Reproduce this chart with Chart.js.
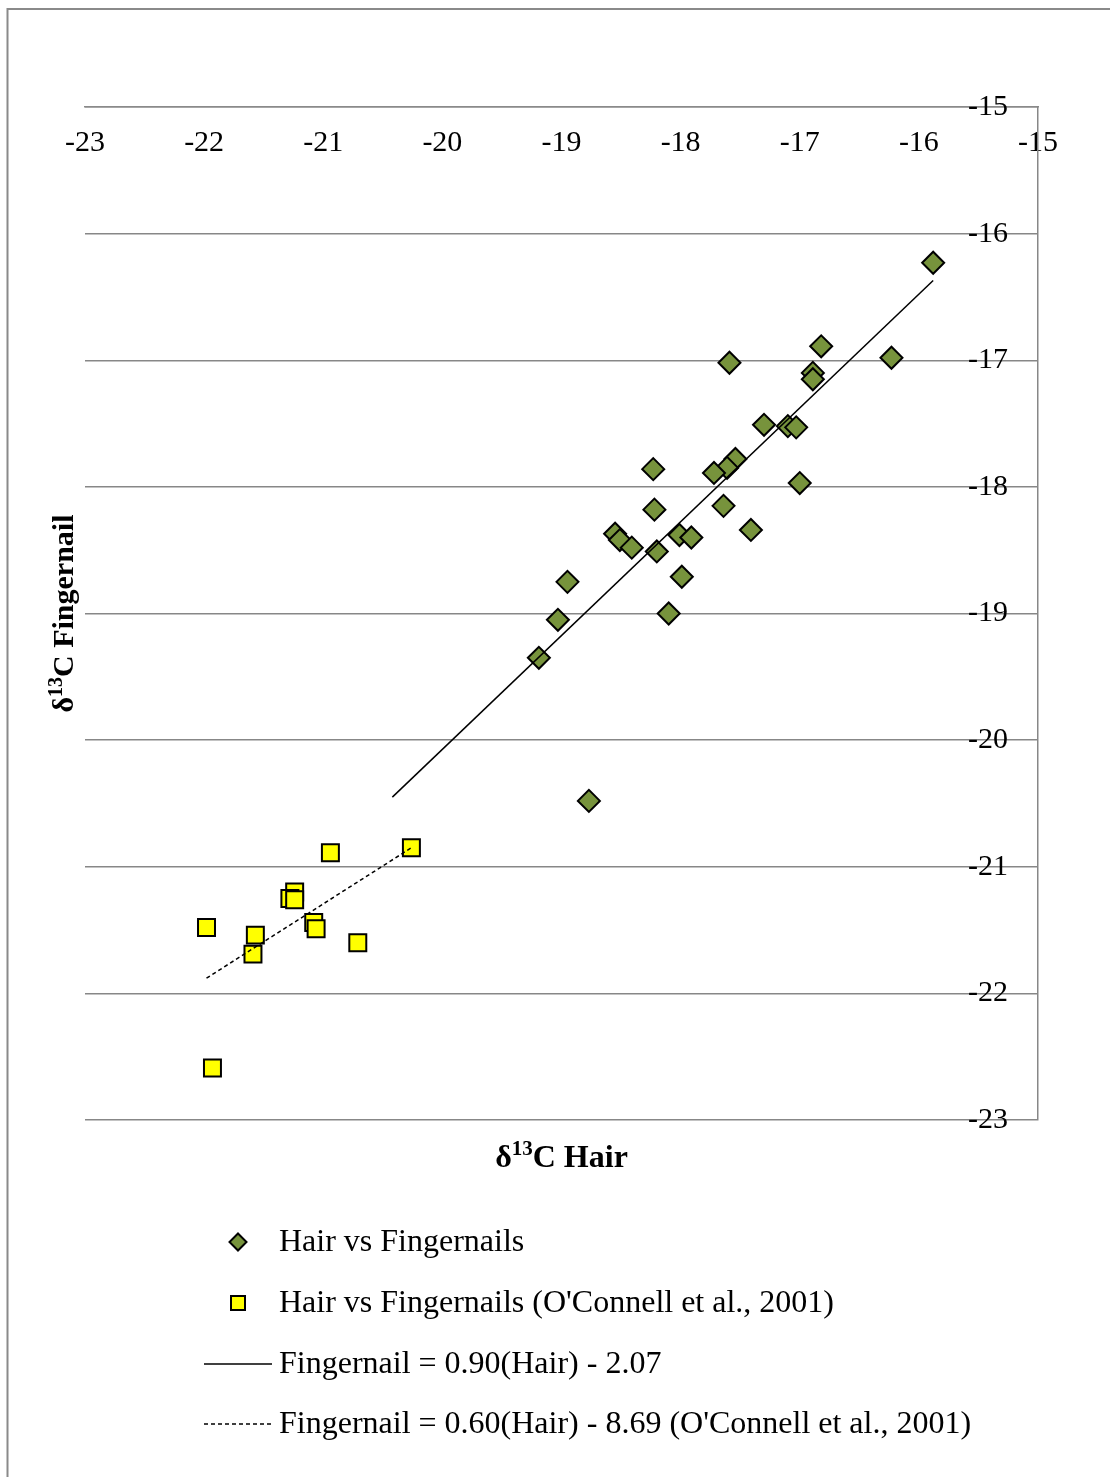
<!DOCTYPE html>
<html>
<head>
<meta charset="utf-8">
<script src="https://cdn.jsdelivr.net/npm/chart.js@4.4.1/dist/chart.umd.min.js"></script>
<style>
  html, body { margin: 0; padding: 0; background: #fff; }
  canvas { display: block; }
</style>
</head>
<body>
<canvas id="chart" width="1110" height="1477"></canvas>
<script>
// Hair vs fingernail d13C values (this study)
const hairValues = [-15.88, -16.82, -16.23, -17.59, -16.89, -16.89, -17.30, -17.10, -17.03, -17.54,
    -17.61, -17.72, -18.23, -17.00, -18.22, -17.64, -17.41, -18.55, -18.51, -18.41,
    -18.01, -17.91, -18.20, -17.99, -18.95, -18.10, -19.03, -19.19, -18.77];
const nailValues = [-16.23, -16.89, -16.98, -17.02, -17.10, -17.15, -17.51, -17.52, -17.53, -17.78,
    -17.85, -17.89, -17.86, -17.97, -18.18, -18.15, -18.34, -18.37, -18.42, -18.48,
    -18.38, -18.40, -18.51, -18.71, -18.75, -19.00, -19.05, -19.35, -20.48];

// O'Connell et al., 2001
const oconnellHair = [-20.26, -20.94, -21.24, -21.28, -21.24, -21.08, -21.06, -21.98, -21.57, -20.71, -21.59, -21.93];
const oconnellNail = [-20.85, -20.89, -21.20, -21.25, -21.26, -21.44, -21.49, -21.48, -21.54, -21.60, -21.69, -22.59];

// trend line end points as drawn
const trendHair = [-20.42, -15.88];
const trendNail = [-20.45, -16.37];
const oconnellTrendHair = [-21.98, -20.26];
const oconnellTrendNail = [-21.88, -20.85];

const seriesLabels = [
    'Hair vs Fingernails',
    "Hair vs Fingernails (O'Connell et al., 2001)",
    'Fingernail = 0.90(Hair) - 2.07',
    "Fingernail = 0.60(Hair) - 8.69 (O'Connell et al., 2001)"
];
const xTitle = ['\u03b4', '13', 'C Hair'];
const yTitle = ['\u03b4', '13', 'C Fingernail'];

const serif = '"Times New Roman", "Liberation Serif", serif';

function pairs(xs, ys) {
    return xs.map((x, i) => ({ x: x, y: ys[i] }));
}

// draws text with a superscript middle part, centred on (cx, cy)
function drawSupText(ctx, parts, cx, cy, size) {
    const big = 'bold ' + size + 'px ' + serif;
    const small = 'bold ' + Math.round(size * 0.65) + 'px ' + serif;
    ctx.font = big;
    const w0 = ctx.measureText(parts[0]).width;
    const w2 = ctx.measureText(parts[2]).width;
    ctx.font = small;
    const w1 = ctx.measureText(parts[1]).width;
    let x = cx - (w0 + w1 + w2) / 2;
    ctx.textBaseline = 'alphabetic';
    ctx.textAlign = 'left';
    const base = cy + size * 0.33;
    ctx.font = big;
    ctx.fillText(parts[0], x, base);
    x += w0;
    ctx.font = small;
    ctx.fillText(parts[1], x, base - size * 0.36);
    x += w1;
    ctx.font = big;
    ctx.fillText(parts[2], x, base);
}

const extras = {
    id: 'extras',
    beforeDraw(chart) {
        const ctx = chart.ctx;
        ctx.save();
        ctx.fillStyle = '#fff';
        ctx.fillRect(0, 0, chart.width, chart.height);
        ctx.strokeStyle = '#8a8a8a';
        ctx.lineWidth = 2;
        ctx.beginPath();
        ctx.moveTo(7.5, chart.height + 5);
        ctx.lineTo(7.5, 9);
        ctx.lineTo(chart.width + 5, 9);
        ctx.stroke();
        ctx.restore();
    },
    afterDraw(chart) {
        const ctx = chart.ctx;
        const area = chart.chartArea;
        ctx.save();
        ctx.fillStyle = '#000';
        drawSupText(ctx, xTitle, (area.left + area.right) / 2, area.bottom + 36, 32);
        ctx.save();
        ctx.translate(63, (area.top + area.bottom) / 2);
        ctx.rotate(-Math.PI / 2);
        drawSupText(ctx, yTitle, 0, 0, 30);
        ctx.restore();

        // legend, one entry per row
        const rows = [1242, 1303, 1364, 1424];
        chart.data.datasets.forEach((ds, i) => {
            const y = rows[i];
            ctx.lineWidth = 1.5;
            ctx.strokeStyle = '#000';
            if (ds.showLine) {
                ctx.setLineDash(ds.borderDash || []);
                ctx.beginPath();
                ctx.moveTo(204, y);
                ctx.lineTo(272, y);
                ctx.stroke();
                ctx.setLineDash([]);
            } else if (ds.pointStyle === 'rectRot') {
                ctx.lineWidth = 2;
                ctx.fillStyle = ds.backgroundColor;
                ctx.beginPath();
                ctx.moveTo(238, y - 8.5);
                ctx.lineTo(246.5, y);
                ctx.lineTo(238, y + 8.5);
                ctx.lineTo(229.5, y);
                ctx.closePath();
                ctx.fill();
                ctx.stroke();
            } else {
                ctx.lineWidth = 2;
                ctx.fillStyle = ds.backgroundColor;
                ctx.fillRect(231, y - 7, 14, 14);
                ctx.strokeRect(231, y - 7, 14, 14);
            }
            ctx.fillStyle = '#000';
            ctx.font = '32px ' + serif;
            ctx.textAlign = 'left';
            ctx.textBaseline = 'middle';
            ctx.fillText(ds.label, 279, y + 1);
        });
        ctx.restore();
    }
};

const ctx = document.getElementById('chart').getContext('2d');
const chart = new Chart(ctx, {
    type: 'scatter',
    data: {
        datasets: [
            {
                label: seriesLabels[0],
                data: pairs(hairValues, nailValues),
                pointStyle: 'rectRot',
                pointRadius: 11,
                backgroundColor: '#77933C',
                borderColor: '#000',
                borderWidth: 2,
                order: 4
            },
            {
                label: seriesLabels[1],
                data: pairs(oconnellHair, oconnellNail),
                pointStyle: 'rect',
                pointRadius: 12,
                backgroundColor: '#FFFF00',
                borderColor: '#000',
                borderWidth: 2,
                order: 3
            },
            {
                label: seriesLabels[2],
                data: pairs(trendHair, trendNail),
                showLine: true,
                pointRadius: 0,
                borderColor: '#000',
                borderWidth: 1.5,
                order: 1
            },
            {
                label: seriesLabels[3],
                data: pairs(oconnellTrendHair, oconnellTrendNail),
                showLine: true,
                pointRadius: 0,
                borderColor: '#000',
                borderWidth: 1.5,
                borderDash: [4, 3],
                order: 2
            }
        ]
    },
    options: {
        responsive: false,
        animation: false,
        devicePixelRatio: 1,
        layout: {
            padding: { left: 85, top: 107, right: 72, bottom: 357 }
        },
        plugins: {
            legend: { display: false },
            tooltip: { enabled: false }
        },
        scales: {
            x: {
                type: 'linear',
                position: { y: -15 },
                min: -23,
                max: -15,
                ticks: {
                    stepSize: 1,
                    padding: 18,
                    color: '#000',
                    font: { family: serif, size: 30 }
                },
                grid: { display: false, drawTicks: false },
                border: { display: true, color: '#8a8a8a', width: 1.5 }
            },
            y: {
                type: 'linear',
                position: 'right',
                min: -23,
                max: -15,
                afterFit: (scale) => { scale.width = 0; },
                ticks: {
                    stepSize: 1,
                    mirror: true,
                    padding: -30,
                    color: '#000',
                    font: { family: serif, size: 30 }
                },
                grid: { color: '#878787', lineWidth: 1.5, drawTicks: false },
                border: { display: true, color: '#878787', width: 1.5 }
            }
        }
    },
    plugins: [extras]
});
</script>
</body>
</html>
